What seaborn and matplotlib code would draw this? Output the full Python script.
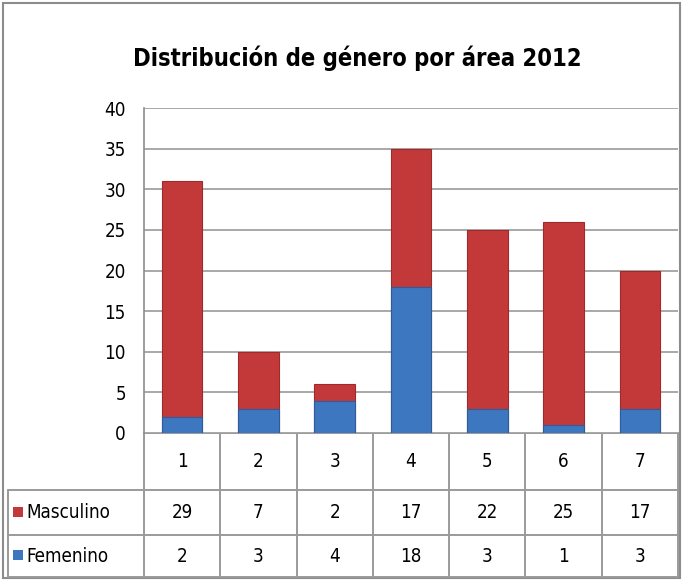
import pandas as pd
import seaborn as sns
import matplotlib.pyplot as plt
from matplotlib.patches import Rectangle

# Data
areas = ["1", "2", "3", "4", "5", "6", "7"]
masculino = [29, 7, 2, 17, 22, 25, 17]
femenino = [2, 3, 4, 18, 3, 1, 3]
series = ["Masculino", "Femenino"]
colors = {"Masculino": "#C3393A", "Femenino": "#3D77C0"}
title = "Distribución de género por área 2012"

sns.set_style("white")
plt.rcParams["font.family"] = ["DejaVu Sans"]
plt.rcParams["font.stretch"] = "condensed"
plt.rcParams["text.color"] = "black"
plt.rcParams["ytick.labelcolor"] = "black"

df = pd.DataFrame({"area": areas, "Masculino": masculino, "Femenino": femenino})
df["total"] = df["Masculino"] + df["Femenino"]

W, H = 684, 582
fig = plt.figure(figsize=(W / 100, H / 100), dpi=100)

# plot area
x0, x1, ytop, ybot = 144, 678, 108, 433
ax = fig.add_axes([x0 / W, (H - ybot) / H, (x1 - x0) / W, (ybot - ytop) / H])

sns.barplot(data=df, x="area", y="total", color=colors["Masculino"],
            width=0.53, saturation=1, ax=ax, edgecolor="#A02A2B", linewidth=0.8)
sns.barplot(data=df, x="area", y="Femenino", color=colors["Femenino"],
            width=0.53, saturation=1, ax=ax, edgecolor="#2C5C9C", linewidth=0.8)

ax.set_ylim(0, 40)
ax.set_xlim(-0.5, len(areas) - 0.5)
ax.set_yticks(range(0, 41, 5))
ax.yaxis.grid(True, color="#9A9A9A", linewidth=1.2)
ax.set_axisbelow(True)
ax.set_xticks([])
ax.set_xlabel("")
ax.set_ylabel("")
for s in ["top", "right", "bottom"]:
    ax.spines[s].set_visible(False)
ax.spines["left"].set_color("#8C8C8C")
ax.spines["left"].set_linewidth(1.2)
ax.tick_params(axis="y", length=5, color="#8C8C8C", labelsize=13.5, pad=8)

# overlay in pixel coordinates for table + border
ov = fig.add_axes([0, 0, 1, 1], zorder=-1)
ov.set_xlim(0, W)
ov.set_ylim(H, 0)
ov.axis("off")
ov.add_patch(Rectangle((3, 3), 677, 575, fill=False, edgecolor="#8C8C8C", linewidth=1.5))

fig.text(357 / W, 1 - 58 / H, title, ha="center", va="center",
         fontsize=17, fontweight="bold")

col_w = (x1 - x0) / len(areas)
rows = [433, 490, 535, 577]
gray = "#9A9A9A"
lw = 1.4
# horizontal lines
ov.plot([x0, x1], [rows[0], rows[0]], color=gray, lw=lw)
for r in rows[1:]:
    ov.plot([8, x1], [r, r], color=gray, lw=lw)
# vertical lines
for k in range(len(areas) + 1):
    ov.plot([x0 + k * col_w] * 2, [rows[0], rows[3]], color=gray, lw=lw)
ov.plot([8, 8], [rows[1], rows[3]], color=gray, lw=lw)

for k, a in enumerate(areas):
    cx = x0 + (k + 0.5) * col_w
    ov.text(cx, (rows[0] + rows[1]) / 2, a, ha="center", va="center", fontsize=13.5)
    ov.text(cx, (rows[1] + rows[2]) / 2, str(masculino[k]), ha="center", va="center", fontsize=13.5)
    ov.text(cx, (rows[2] + rows[3]) / 2, str(femenino[k]), ha="center", va="center", fontsize=13.5)

# legend keys inside the table
for i, s in enumerate(series):
    cy = (rows[1 + i] + rows[2 + i]) / 2
    ov.add_patch(Rectangle((13, cy - 6), 10, 10, facecolor=colors[s], edgecolor="none"))
    ov.text(26, cy, s, ha="left", va="center", fontsize=13.5)

fig.savefig("out.png", dpi=100)
